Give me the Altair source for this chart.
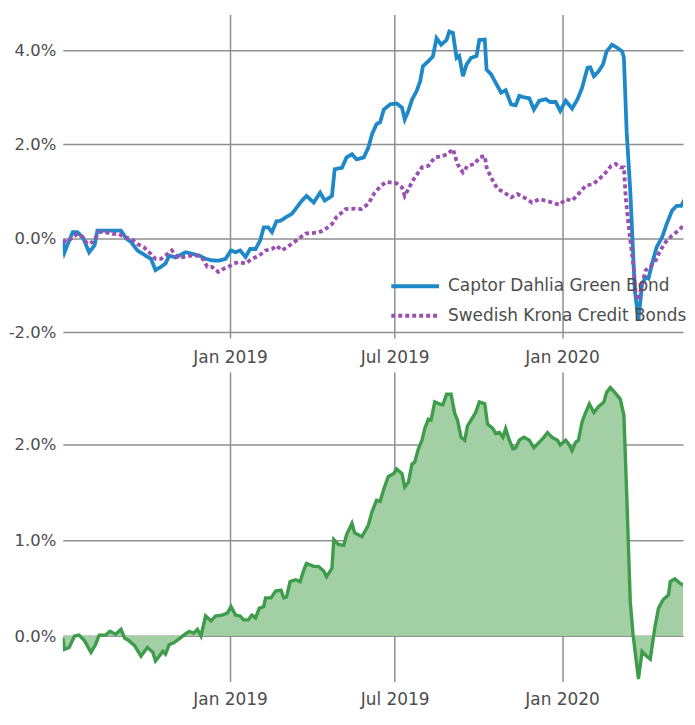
import altair as alt
import pandas as pd

SER_A = "Captor Dahlia Green Bond"
SER_B = "Swedish Krona Credit Bonds"

blue_dates = ["2018-07-01","2018-07-03","2018-07-06","2018-07-12","2018-07-17","2018-07-23","2018-07-30","2018-08-05","2018-08-08","2018-08-21",
"2018-09-03","2018-09-09","2018-09-14","2018-09-21","2018-09-30","2018-10-06","2018-10-11","2018-10-17","2018-10-22","2018-10-26",
"2018-11-02","2018-11-13","2018-11-20","2018-11-28","2018-12-05","2018-12-12","2018-12-19","2018-12-27","2019-01-02","2019-01-07",
"2019-01-12","2019-01-18","2019-01-23","2019-01-29","2019-02-03","2019-02-07","2019-02-12","2019-02-16","2019-02-21","2019-02-25",
"2019-03-10","2019-03-21","2019-03-26","2019-04-03","2019-04-10","2019-04-15","2019-04-23","2019-04-26","2019-05-04","2019-05-09",
"2019-05-15","2019-05-20","2019-05-28","2019-06-02","2019-06-06","2019-06-11","2019-06-15","2019-06-19","2019-06-26","2019-07-03",
"2019-07-09","2019-07-12","2019-07-16","2019-07-20","2019-07-25","2019-07-29","2019-08-01","2019-08-07","2019-08-12","2019-08-16",
"2019-08-21","2019-08-27","2019-08-30","2019-09-03","2019-09-07","2019-09-10","2019-09-14","2019-09-18","2019-09-23","2019-09-29",
"2019-10-02","2019-10-08","2019-10-10","2019-10-15","2019-10-20","2019-10-26","2019-10-31","2019-11-06","2019-11-11","2019-11-15",
"2019-11-20","2019-11-26","2019-12-01","2019-12-07","2019-12-14","2019-12-19","2019-12-25","2019-12-30","2020-01-05","2020-01-12",
"2020-01-18","2020-01-23","2020-01-29","2020-02-01","2020-02-05","2020-02-10","2020-02-15","2020-02-19","2020-02-25","2020-03-02",
"2020-03-07","2020-03-09","2020-03-12","2020-03-16","2020-03-18","2020-03-21","2020-03-25","2020-03-29","2020-04-02","2020-04-05",
"2020-04-09","2020-04-14","2020-04-20","2020-04-25","2020-05-01","2020-05-06","2020-05-11","2020-05-15","2020-05-20","2020-05-26"]
blue_values = [-0.05,-0.30,-0.15,0.13,0.13,0.02,-0.30,-0.15,0.16,0.16,
0.16,-0.01,-0.08,-0.26,-0.37,-0.44,-0.68,-0.61,-0.54,-0.37,
-0.41,-0.30,-0.33,-0.37,-0.44,-0.47,-0.48,-0.44,-0.26,-0.30,
-0.26,-0.40,-0.23,-0.23,-0.05,0.23,0.23,0.13,0.36,0.37,
0.52,0.80,0.90,0.76,0.97,0.80,0.90,1.47,1.50,1.72,
1.79,1.68,1.72,1.93,2.21,2.43,2.47,2.74,2.85,2.87,
2.78,2.53,2.71,2.95,3.13,3.34,3.66,3.77,3.87,4.26,
4.12,4.22,4.40,4.37,3.84,3.88,3.45,3.70,3.84,3.88,
4.22,4.23,3.59,3.49,3.31,3.10,3.15,2.85,2.83,3.03,
3.00,2.98,2.74,2.93,2.96,2.90,2.90,2.71,2.93,2.76,
2.96,3.20,3.63,3.64,3.45,3.55,3.70,3.98,4.12,4.05,
3.98,3.84,2.28,1.01,0.16,-1.11,-1.74,-0.97,-0.83,-0.86,
-0.54,-0.19,0.02,0.30,0.59,0.69,0.69,0.83,0.80,0.82]

purple_dates = ["2018-07-01","2018-07-06","2018-07-12","2018-07-17","2018-07-23","2018-07-28","2018-08-03","2018-08-10","2018-08-17","2018-08-25",
"2018-09-01","2018-09-07","2018-09-14","2018-09-21","2018-09-28","2018-10-04","2018-10-11","2018-10-17","2018-10-22","2018-10-29",
"2018-11-04","2018-11-11","2018-11-19","2018-11-26","2018-12-02","2018-12-07","2018-12-12","2018-12-19","2018-12-25","2018-12-30",
"2019-01-05","2019-01-10","2019-01-18","2019-01-25","2019-02-02","2019-02-09","2019-02-16","2019-02-21","2019-02-27","2019-03-10",
"2019-03-25","2019-04-08","2019-04-15","2019-04-23","2019-04-28","2019-05-04","2019-05-08","2019-05-18","2019-05-25","2019-06-02",
"2019-06-09","2019-06-16","2019-06-22","2019-07-03","2019-07-09","2019-07-12","2019-07-18","2019-07-23","2019-07-31","2019-08-07",
"2019-08-14","2019-08-21","2019-08-28","2019-09-03","2019-09-08","2019-09-14","2019-09-19","2019-09-27","2019-10-02","2019-10-08",
"2019-10-10","2019-10-15","2019-10-22","2019-10-29","2019-11-06","2019-11-13","2019-11-20","2019-11-29","2019-12-07","2019-12-14",
"2019-12-21","2019-12-29","2020-01-05","2020-01-12","2020-01-19","2020-01-27","2020-02-04","2020-02-11","2020-02-18","2020-02-24",
"2020-02-29","2020-03-05","2020-03-09","2020-03-11","2020-03-14","2020-03-17","2020-03-20","2020-03-22","2020-03-25","2020-03-29",
"2020-04-02","2020-04-07","2020-04-13","2020-04-18","2020-04-24","2020-05-01","2020-05-08","2020-05-15","2020-05-20","2020-05-26"]
purple_values = [-0.05,-0.08,0.02,0.09,0.02,-0.12,-0.08,0.13,0.13,0.09,
0.09,0.02,-0.01,-0.12,-0.19,-0.30,-0.44,-0.44,-0.37,-0.26,
-0.40,-0.40,-0.37,-0.37,-0.44,-0.61,-0.61,-0.72,-0.65,-0.61,
-0.54,-0.51,-0.54,-0.44,-0.37,-0.26,-0.23,-0.16,-0.26,-0.12,
0.10,0.12,0.18,0.30,0.45,0.55,0.62,0.63,0.62,0.73,
0.97,1.12,1.20,1.17,1.08,0.90,1.12,1.29,1.51,1.54,
1.72,1.74,1.79,1.90,1.58,1.40,1.54,1.58,1.72,1.75,
1.51,1.29,1.05,0.98,0.87,0.94,0.87,0.76,0.83,0.80,
0.76,0.71,0.83,0.80,0.94,1.12,1.15,1.26,1.40,1.54,
1.58,1.51,1.51,0.87,0.30,-0.19,-0.68,-1.18,-1.32,-0.97,
-0.68,-0.61,-0.47,-0.26,-0.08,0.06,0.16,0.30,0.34,0.38]

green_dates = ["2018-07-01","2018-07-03","2018-07-08","2018-07-14","2018-07-19","2018-07-25","2018-08-01","2018-08-06","2018-08-10","2018-08-17",
"2018-08-22","2018-08-28","2018-09-03","2018-09-07","2018-09-12","2018-09-18","2018-09-25","2018-10-02","2018-10-08","2018-10-11",
"2018-10-19","2018-10-22","2018-10-26","2018-10-31","2018-11-06","2018-11-11","2018-11-17","2018-11-22","2018-11-26","2018-11-30",
"2018-12-05","2018-12-11","2018-12-16","2018-12-23","2018-12-29","2019-01-02","2019-01-07","2019-01-12","2019-01-16","2019-01-21",
"2019-01-25","2019-01-29","2019-02-02","2019-02-07","2019-02-09","2019-02-15","2019-02-20","2019-02-26","2019-03-01","2019-03-04",
"2019-03-08","2019-03-14","2019-03-19","2019-03-23","2019-03-26","2019-04-03","2019-04-08","2019-04-14","2019-04-17","2019-04-23",
"2019-04-25","2019-04-30","2019-05-06","2019-05-09","2019-05-15","2019-05-18","2019-05-26","2019-06-02","2019-06-06","2019-06-11",
"2019-06-15","2019-06-19","2019-06-24","2019-06-30","2019-07-03","2019-07-09","2019-07-12","2019-07-16","2019-07-20","2019-07-23",
"2019-07-27","2019-07-31","2019-08-03","2019-08-07","2019-08-10","2019-08-14","2019-08-19","2019-08-23","2019-08-27","2019-09-01",
"2019-09-05","2019-09-08","2019-09-12","2019-09-16","2019-09-19","2019-09-25","2019-09-28","2019-10-02","2019-10-08","2019-10-11",
"2019-10-17","2019-10-20","2019-10-24","2019-10-28","2019-10-31","2019-11-04","2019-11-08","2019-11-11","2019-11-15","2019-11-20",
"2019-11-26","2019-12-01","2019-12-07","2019-12-12","2019-12-16","2019-12-21","2019-12-27","2019-12-30","2020-01-05","2020-01-09",
"2020-01-12","2020-01-16","2020-01-19","2020-01-23","2020-01-27","2020-01-31","2020-02-05","2020-02-10","2020-02-16","2020-02-19",
"2020-02-23","2020-02-28","2020-03-05","2020-03-09","2020-03-12","2020-03-16","2020-03-19","2020-03-25","2020-03-29","2020-04-03",
"2020-04-07","2020-04-12","2020-04-16","2020-04-21","2020-04-27","2020-04-29","2020-05-04","2020-05-10","2020-05-15","2020-05-19",
"2020-05-23","2020-05-27"]
green_values = [-0.02,-0.14,-0.12,0.00,0.01,-0.05,-0.17,-0.09,0.01,0.01,
0.05,0.02,0.07,-0.02,-0.05,-0.10,-0.21,-0.12,-0.17,-0.26,
-0.16,-0.19,-0.09,-0.07,-0.03,0.01,0.05,0.03,0.07,0.00,
0.21,0.16,0.21,0.22,0.24,0.31,0.22,0.21,0.17,0.17,
0.22,0.19,0.29,0.31,0.40,0.40,0.47,0.48,0.40,0.41,
0.57,0.59,0.57,0.69,0.76,0.73,0.73,0.68,0.62,0.71,
1.01,0.96,0.95,1.06,1.18,1.08,1.04,1.16,1.30,1.42,
1.41,1.54,1.67,1.70,1.75,1.70,1.56,1.61,1.80,1.82,
1.96,2.05,2.17,2.27,2.26,2.45,2.43,2.42,2.53,2.53,
2.33,2.26,2.08,2.05,2.20,2.29,2.34,2.45,2.43,2.22,
2.17,2.12,2.13,2.08,2.17,2.05,1.96,1.97,2.05,2.08,
2.05,1.97,2.03,2.08,2.13,2.08,2.05,2.00,2.05,2.00,
1.94,2.03,2.05,2.24,2.34,2.43,2.34,2.40,2.45,2.55,
2.60,2.55,2.48,2.31,1.51,0.36,0.02,-0.45,-0.16,-0.21,
-0.24,0.09,0.29,0.38,0.43,0.57,0.60,0.55,0.53,0.45,
0.51,0.50]

top_df = pd.concat([
    pd.DataFrame({"date": pd.to_datetime(blue_dates), "value": blue_values, "series": SER_A}),
    pd.DataFrame({"date": pd.to_datetime(purple_dates), "value": purple_values, "series": SER_B}),
], ignore_index=True)
rel_df = pd.DataFrame({"date": pd.to_datetime(green_dates), "value": green_values})

FONT = "DejaVu Sans"
TEXT = "#4d4d4d"
GRID = "#8f8f8f"

x_dom = [alt.DateTime(year=2018, month=7, date=1), alt.DateTime(year=2020, month=5, date=13)]
tick_vals = [alt.DateTime(year=2019, month=1, date=1),
             alt.DateTime(year=2019, month=7, date=1),
             alt.DateTime(year=2020, month=1, date=1)]
pct_expr = "(datum.value < 0 ? '-' : '') + format(abs(datum.value), '.1f') + '%'"


def x_enc(pad):
    return alt.X("date:T", scale=alt.Scale(domain=x_dom),
                 axis=alt.Axis(values=tick_vals, format="%b %Y", title=None, labelPadding=pad,
                               labelFontSize=17))


def y_axis(vals):
    return alt.Axis(values=vals, labelExpr=pct_expr, title=None, minExtent=55, maxExtent=55,
                    labelPadding=7, labelFontSize=16.5)


legend = alt.Legend(title=None, orient="none", legendX=340, legendY=259,
                    symbolType="M-2,0H2", symbolSize=576, symbolStrokeWidth=4,
                    labelFont=FONT, labelFontSize=17, labelColor=TEXT, labelLimit=250,
                    labelOffset=19, rowPadding=7.5)
color_enc = alt.Color("series:N", scale=alt.Scale(domain=[SER_A, SER_B], range=["#1f88c9", "#9b50b1"]), legend=legend)
dash_enc = alt.StrokeDash("series:N", scale=alt.Scale(domain=[SER_A, SER_B], range=[[1, 0], [4, 3]]), legend=legend)

y_top = alt.Y("value:Q", scale=alt.Scale(domain=[-2.127, 4.763], nice=False, zero=False),
              axis=y_axis([-2, 0, 2, 4]))

base_top = alt.Chart(top_df).encode(x=x_enc(12), y=y_top, color=color_enc, strokeDash=dash_enc)
blue = base_top.transform_filter(alt.datum.series == SER_A).mark_line(strokeWidth=3.8, clip=True)
purple = base_top.transform_filter(alt.datum.series == SER_B).mark_line(strokeWidth=3.8, clip=True)
top = alt.layer(blue, purple).properties(width=623, height=325)

y_bot = alt.Y("value:Q", scale=alt.Scale(domain=[-0.476, 2.764], nice=False, zero=False),
              axis=y_axis([0, 1, 2]))
base_bot = alt.Chart(rel_df).encode(x=x_enc(10), y=y_bot)
area = base_bot.mark_area(color="#a3cfa4", opacity=1, clip=True).encode(y2=alt.datum(0))
gline = base_bot.mark_line(color="#3f9c4b", strokeWidth=3.4, clip=True)
bottom = alt.layer(area, gline).properties(width=623, height=311)

chart = alt.vconcat(top, bottom, spacing=6).properties(
    padding={"left": 0, "top": 5, "right": 0, "bottom": 0}
).configure_view(stroke=None).configure_axis(
    grid=True, gridColor=GRID, gridWidth=1.5, domain=False, ticks=False,
    labelFont=FONT, labelColor=TEXT
).configure_legend(labelFont=FONT)

chart.save("out.html", embed_options={"renderer": "svg", "actions": False})
